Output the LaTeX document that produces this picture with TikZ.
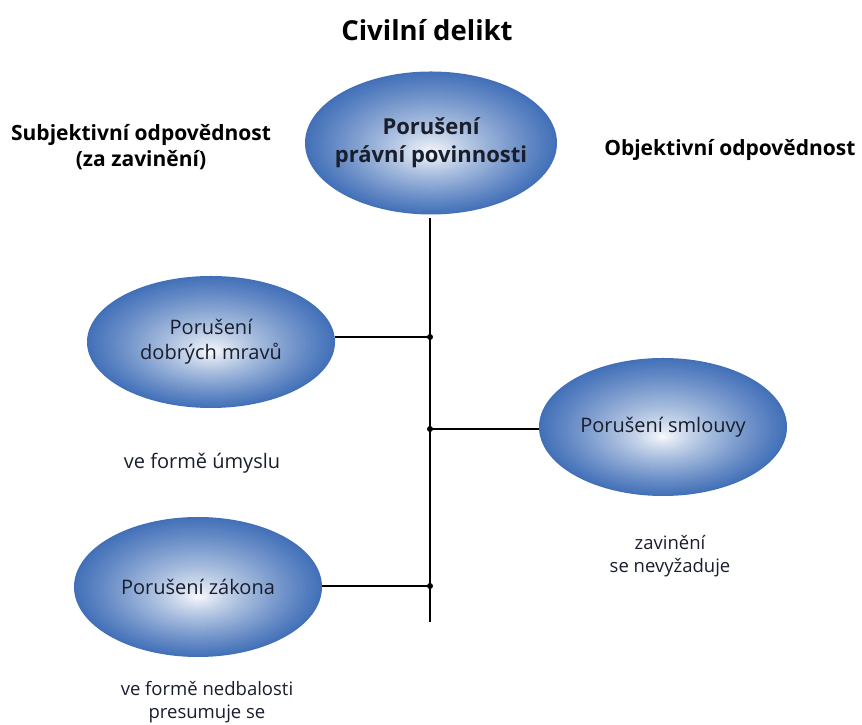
\documentclass[tikz,border=0pt]{standalone}
\usepackage{fontspec}
\setmainfont{Open Sans}
\usetikzlibrary{shapes.geometric,backgrounds}
\definecolor{edgeblue}{RGB}{66,112,184}
\definecolor{txt}{RGB}{25,30,45}
\newcommand\glowoval[3]{%
  \foreach \k in {60,59,...,1}{%
    \pgfmathsetmacro\gt{\k/60}%
    \pgfmathsetmacro\gp{100*pow(\gt,0.8)}%
    \fill[edgeblue!\gp!white, shift={(#1)}] (0,{-(1-\gt)*10}) ellipse [x radius={#2*\gt}, y radius={#3*\gt}];
  }}
\tikzset{
  oval/.style={ellipse, minimum width=248pt, minimum height=138pt, inner sep=0pt, align=center, text=txt, font=\fontsize{20}{25}\selectfont},
  conn/.style={line width=2pt, black},
  jdot/.style={circle, fill=black, inner sep=0pt, minimum size=6pt},
  note/.style={align=center, text=txt, font=\fontsize{18.5}{22.5}\selectfont},
  head/.style={align=center, font=\bfseries\fontsize{21}{26}\selectfont},
}
\begin{document}
\begin{tikzpicture}[x=1pt,y=1pt]
\useasboundingbox (0,0) rectangle (862,725);
% y values below are 725 minus the pixel row
\node[font=\bfseries\fontsize{27.5}{30}\selectfont] (title) at (427,695) {Civilní delikt};
\node[oval, minimum width=252pt, minimum height=143pt, font=\bfseries\fontsize{22}{28}\selectfont] (top) at (431,582) {Porušení\\právní povinnosti};
\node[head] (subj) at (141,578) {Subjektivní odpovědnost\\(za zavinění)};
\node[head, anchor=east] (obj) at (859,575) {Objektivní odpovědnost};
\node[oval, minimum height=132pt] (mravy) at (211,383) {Porušení\\dobrých mravů};
\node[oval] (smlouva) at (663,298) {Porušení smlouvy};
\node[oval, minimum height=140pt] (zakon) at (198,138) {Porušení zákona};
\begin{scope}[on background layer]
  \glowoval{top.center}{126}{71.5}
  \glowoval{mravy.center}{124}{66}
  \glowoval{smlouva.center}{124}{69}
  \glowoval{zakon.center}{124}{70}
\end{scope}
\coordinate (j1) at (430,388);
\coordinate (j2) at (430,296);
\coordinate (j3) at (430,139);
\coordinate (bot) at (430,103);
\coordinate (topstart) at (430,507);
\draw[conn] (topstart) -- (bot);
\draw[conn] (j1 -| mravy.east) -- (j1);
\draw[conn] (j2) -- (j2 -| smlouva.west);
\draw[conn] (j3 -| zakon.east) -- (j3);
\node[jdot] (d1) at (j1) {};
\node[jdot] (d2) at (j2) {};
\node[jdot] (d3) at (j3) {};
\node[note, font=\fontsize{20}{23}\selectfont] (umysl) at (202,262) {ve formě úmyslu};
\node[note] (zav) at (670,169) {zavinění\\se nevyžaduje};
\node[note] (nedb) at (207,23) {ve formě nedbalosti\\presumuje se};
\end{tikzpicture}
\end{document}
